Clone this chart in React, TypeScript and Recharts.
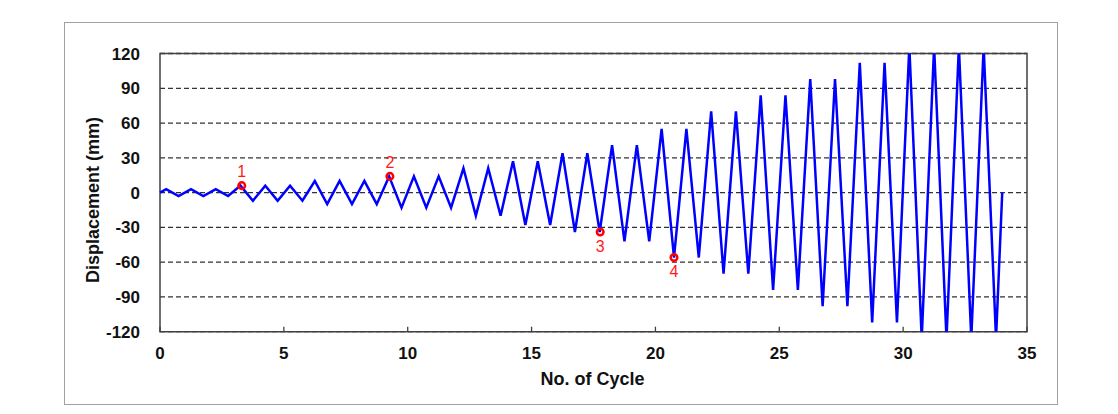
import { LineChart, Line, XAxis, YAxis, CartesianGrid, ReferenceArea, ReferenceDot } from 'recharts'

// loading protocol: cycle number vs. imposed displacement (mm)
const cycleX = [
  0, 0.25, 0.75, 1.25, 1.75, 2.25, 2.75, 3.25, 3.75, 4.25, 4.75, 5.25, 5.75, 6.25, 6.75, 7.25, 7.75,
  8.25, 8.75, 9.25, 9.75, 10.25, 10.75, 11.25, 11.75, 12.25, 12.75, 13.25, 13.75, 14.25, 14.75,
  15.25, 15.75, 16.25, 16.75, 17.25, 17.75, 18.25, 18.75, 19.25, 19.75, 20.25, 20.75, 21.25, 21.75,
  22.25, 22.75, 23.25, 23.75, 24.25, 24.75, 25.25, 25.75, 26.25, 26.75, 27.25, 27.75, 28.25, 28.75,
  29.25, 29.75, 30.25, 30.75, 31.25, 31.75, 32.25, 32.75, 33.25, 33.75, 34,
]
const displacement = [
  0, 3, -3, 3, -3, 3, -3, 6, -7, 6, -7, 6, -7, 10, -10, 10, -10, 10, -10, 14, -13, 14, -13, 14, -13,
  21, -20, 21, -20, 27, -28, 27, -28, 34, -34, 34, -34, 41, -42, 41, -42, 55, -56, 55, -56,
  70, -70, 70, -70, 84, -84, 84, -84, 98, -98, 98, -98, 112, -112, 112, -112,
  126, -126, 126, -126, 126, -126, 126, -126, 0,
]

const xTicks = [0, 5, 10, 15, 20, 25, 30, 35]
const yTicks = [-120, -90, -60, -30, 0, 30, 60, 90, 120]

// numbered observation points
const markerX = [3.3, 9.28, 17.77, 20.75]
const markerY = [6, 14, -34, -56]
const markerLabels = ['1', '2', '3', '4']
const markerSide: ('top' | 'bottom')[] = ['top', 'top', 'bottom', 'bottom']

const data = cycleX.map((c, i) => ({ cycle: c, disp: displacement[i] }))

const FONT = '"Liberation Sans", Arial, sans-serif'

function XTick({ x, y, payload }: any) {
  return (
    <g>
      <line x1={x} x2={x} y1={y - 21} y2={y - 26} stroke="#404040" strokeWidth={1.3} />
      <text x={x} y={y} dy="0.36em" textAnchor="middle" fontSize={17} fontWeight={700}
        fontFamily={FONT} fill="#111">
        {payload.value}
      </text>
    </g>
  )
}

export default function App() {
  return (
    <div style={{ position: 'relative', width: 1102, height: 398 }}>
      <div style={{
        position: 'absolute', left: 56, top: 14, width: 994, height: 383,
        border: '1.5px solid #a0a0a0', boxSizing: 'border-box', pointerEvents: 'none',
      }} />
      <LineChart width={1102} height={398} data={data}
        margin={{ top: 45.5, right: 83, bottom: 44.3, left: 92 }}>
        <CartesianGrid vertical={false} stroke="#333" strokeWidth={1.3} strokeDasharray="5 3" />
        <XAxis dataKey="cycle" type="number" domain={[0, 35]} ticks={xTicks} height={30}
          axisLine={false} tickLine={false} tickSize={0} tickMargin={21} tick={<XTick />} />
        <YAxis type="number" domain={[-120, 120]} ticks={yTicks} allowDataOverflow width={60}
          axisLine={false} tickLine={false} tickSize={0} tickMargin={20}
          tick={{ fontSize: 17, fontWeight: 700, fill: '#111', fontFamily: FONT }} />
        <ReferenceArea x1={0} x2={35} y1={-120} y2={120} fill="none" stroke="#404040"
          strokeWidth={1.5} fillOpacity={0} />
        <Line type="linear" dataKey="disp" stroke="#0000ff" strokeWidth={2.5} dot={false}
          isAnimationActive={false} />
        {markerX.map((mx, i) => (
          <ReferenceDot key={i} x={mx} y={markerY[i]} r={3.3} fill="none" stroke="#ff0000"
            strokeWidth={2.5}
            label={{ value: markerLabels[i], position: markerSide[i], offset: 5, fill: '#ff1a1a',
              fontSize: 16, fontFamily: FONT }} />
        ))}
      </LineChart>
      <div style={{
        position: 'absolute', left: 85.3, top: 192, transform: 'translate(-50%, -50%) rotate(-90deg)',
        whiteSpace: 'nowrap', fontFamily: FONT, fontWeight: 700, fontSize: 18, color: '#111', lineHeight: 1,
      }}>
        Displacement (mm)
      </div>
      <div style={{
        position: 'absolute', left: 584.5, top: 371, transform: 'translate(-50%, -50%)',
        whiteSpace: 'nowrap', fontFamily: FONT, fontWeight: 700, fontSize: 18, color: '#111', lineHeight: 1,
      }}>
        No. of Cycle
      </div>
    </div>
  )
}
